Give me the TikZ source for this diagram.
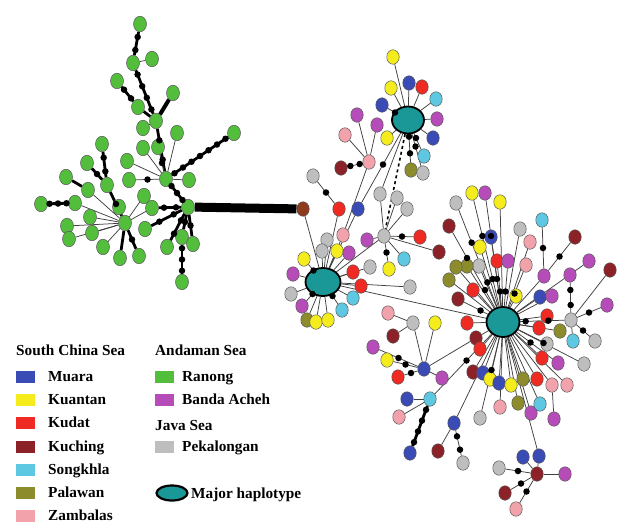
\documentclass[tikz,border=0pt]{standalone}
\usepackage{fontspec}
\setmainfont{Liberation Serif}
\usepackage{tikz}
\usepackage{xcolor}
\usetikzlibrary{shapes.geometric,calc,backgrounds}

\definecolor{muara}{HTML}{3A4BB6}
\definecolor{kuantan}{HTML}{F4EC1C}
\definecolor{kudat}{HTML}{EE2A22}
\definecolor{kuching}{HTML}{8C2228}
\definecolor{songkhla}{HTML}{5EC8E2}
\definecolor{palawan}{HTML}{8C8C2C}
\definecolor{zambalas}{HTML}{F2A2AA}
\definecolor{ranong}{HTML}{52BE3C}
\definecolor{banda}{HTML}{B64CB8}
\definecolor{pekal}{HTML}{BEBEBE}
\definecolor{majorhap}{HTML}{1A9898}
\definecolor{kubrown}{HTML}{8E3A1C}

\begin{document}
\begin{tikzpicture}
[x=1pt,y=-1pt,
      hap/.style={ellipse,draw=black!65,line width=0.5pt,minimum width=12.5pt,minimum height=14.5pt,inner sep=0pt},
      mv/.style={circle,fill=black,minimum size=6.5pt,inner sep=0pt},
      major/.style={ellipse,draw=black,line width=1.8pt,fill=majorhap,minimum width=32pt,minimum height=27pt,inner sep=0pt},
      lk/.style={draw=black!75,line width=0.75pt},
      tk/.style={draw=black,line width=2.8pt},
      swatch/.style={minimum width=19pt,minimum height=12pt,inner sep=0pt},
      lab/.style={anchor=base west,inner sep=0pt,font=\fontsize{15.3}{18}\selectfont\bfseries}]
 \useasboundingbox (0,0) rectangle (621,523);

 % Ranong cluster
 \foreach \n/\x/\y in {g1/140/24,g2/133/63,g3/152/59,g4/117/81,g5/138/107,g6/156/121,
   g7/173/93,g8/143/128,g9/143/148,g10/158/147,g11/177/133,g12/234/133,g13/166/179,
   g14/127/161,g15/129/180,g16/189/180,g17/102/144,g18/107/185,g19/87/163,g20/66/177,
   g21/88/190,g22/41/204,g23/75/203,g24/119/207,g25/125/223,g26/67/226,g27/90/217,
   g28/92/233,g29/69/239,g30/103/247,g31/120/258,g32/139/256,g33/144/196,g34/152/208,
   g35/188/207,g36/145/229,g37/182/237,g38/193/244,g39/167/247,g40/182/282}
  \node[hap,fill=ranong,minimum width=13pt,minimum height=15.5pt] (\n) at (\x,\y) {};

 % major haplotypes
 \node[major] (m1) at (408,120) {};
 \node[major,minimum width=35pt,minimum height=28pt] (m2) at (323,282) {};
 \node[major,minimum width=33pt,minimum height=30pt] (m3) at (503,322) {};
 \node[hap,fill=kubrown] (k0) at (303,209) {};

 % around m1
 \foreach \n/\x/\y/\c in {a1/393/57/kuantan,a2/391/88/kuantan,a3/409/83/muara,a4/422/87/kudat,
   a5/436/99/songkhla,a6/437/119/banda,a7/433/138/muara,a8/424/156/songkhla,a9/411/170/palawan,
   a10/423/173/pekal,a11/387/138/kuantan,a12/382/105/muara,a13/377/125/banda,a14/357/115/banda,
   a15/345/135/zambalas,a16/369/162/zambalas,a17/341/168/kuching,a18/313/176/pekal,
   a19/339/209/kudat,a20/358/209/muara}
  \node[hap,fill=\c] (\n) at (\x,\y) {};

 % grey hub
 \foreach \n/\x/\y/\c in {e0/384/236/pekal,e1/380/194/pekal,e2/397/198/pekal,e3/407/209/pekal,
   e4/367/240/banda,e5/420/237/kudat,e6/439/252/kuching,e7/389/269/kuantan,e8/404/259/songkhla}
  \node[hap,fill=\c] (\n) at (\x,\y) {};

 % around m2
 \foreach \n/\x/\y/\c in {b1/343/235/zambalas,b2/327/240/pekal,b3/322/251/pekal,b4/337/251/kuantan,
   b5/349/253/banda,b6/304/259/kuantan,b7/293/274/banda,b8/291/294/pekal,b9/302/306/banda,
   b10/307/320/palawan,b11/316/322/kuantan,b12/328/320/kuantan,b13/342/310/songkhla,
   b14/353/298/songkhla,b15/361/286/kudat,b16/353/272/kudat,b17/370/267/pekal,b18/410/287/pekal}
  \node[hap,fill=\c] (\n) at (\x,\y) {};

 % around m3
 \foreach \n/\x/\y/\c in {c1/456/203/pekal,c2/472/193/kuantan,c3/485/193/banda,c4/500/202/kuantan,
   c5/449/226/kuching,c6/480/247/kuantan,c7/491/237/muara,c8/520/229/pekal,c9/530/242/zambalas,
   c10/526/265/zambalas,c11/542/220/songkhla,c12/575/237/kuching,c13/544/276/banda,
   c14/589/261/banda,c15/570/275/banda,c16/610/270/kuching,c17/571/320/pekal,c18/607/305/banda,
   c19/573/341/songkhla,c20/595/341/pekal,c21/540/297/muara,c22/552/296/banda,c23/516/296/kuantan,
   c24/497/261/kudat,c25/508/261/banda,c26/479/266/pekal,c27/467/266/palawan,c28/456/267/palawan,
   c29/449/280/palawan,c30/473/290/kudat,c31/458/299/kuching,c32/547/316/kudat,c33/539/328/kudat,
   c34/560/331/palawan,c35/547/344/pekal,c36/542/358/kudat,c37/558/363/banda,c38/584/364/pekal,
   c39/473/372/kuching,c40/483/373/muara,c41/490/379/kuantan,c42/499/383/muara,c43/511/385/kuantan,
   c44/523/379/palawan,c45/537/379/kudat,c46/552/385/zambalas,c47/567/385/zambalas,
   c48/467/323/kudat,c49/476/338/kuching,c50/480/349/kudat,c51/413/323/pekal,c52/435/323/kuantan,
   c53/388/313/zambalas,c54/393/336/kuching,c55/424/369/muara,c56/373/347/banda,c57/387/360/kuantan,
   c58/398/377/kudat,c59/442/378/banda,c60/430/399/songkhla,c61/407/399/muara,c62/399/417/zambalas,
   c63/410/453/muara,c64/454/423/muara,c65/438/451/kuching,c66/463/463/pekal,c67/480/418/pekal,
   c68/500/407/zambalas,c69/518/403/palawan,c70/531/413/banda,c71/540/404/songkhla,
   c72/554/419/banda,c73/539/456/muara,c74/537/474/kuching,c75/523/457/muara,c76/499/468/pekal,
   c77/565/474/banda,c78/505/493/kuching,c79/516/509/zambalas}
  \node[hap,fill=\c] (\n) at (\x,\y) {};

 % thick chains of median vectors
 \foreach \a/\b/\k in {g1/g2/2,g2/g6/4,g4/g5/2,g6/g13/2,g13/g12/7,g13/g35/3,g17/g18/2,g19/g18/1,
   g18/g25/1,g22/g23/3,g32/g25/1,g34/g35/2,g36/g35/2,g37/g35/1,g38/g35/1,g39/g35/2,g37/g40/3,c63/c60/4}{
  \begin{pgfonlayer}{background}\draw[tk] (\a) -- (\b);\end{pgfonlayer}
  \foreach \i in {1,...,\k} \node[mv] (\a-\b-\i) at ($(\a)!{\i/(\k+1)}!(\b)$) {};
 }
 % thin links with median vectors
 \foreach \a/\b/\k in {g10/g13/1,g15/g13/1,a8/m1/1,a9/m1/2,a10/m1/1,a12/m1/1,a17/a16/2,a18/a19/1,
   a20/m1/1,e5/e0/1,e7/e0/1,b6/m2/1,b9/m2/1,b13/m2/1,c1/m3/2,c2/m3/2,c3/m3/2,c5/m3/2,c10/m3/1,
   c11/c13/1,c12/c13/1,c15/c17/2,c17/m3/2,c18/c17/1,c20/c17/1,c24/m3/1,c25/m3/1,c31/m3/1,
   c37/m3/1,c38/m3/1,c56/c55/1,c57/c55/1,c58/c55/1,c60/m3/1,c66/c64/2,c67/m3/1,c76/c74/1,
   c78/c74/1,c79/c74/1}{
  \begin{pgfonlayer}{background}\draw[lk] (\a) -- (\b);\end{pgfonlayer}
  \foreach \i in {1,...,\k} \node[mv] (\a-\b-\i) at ($(\a)!{\i/(\k+1)}!(\b)$) {};
 }

 \begin{pgfonlayer}{background}
  \foreach \a/\b in {g5/g6,g20/g21,g31/g25} \draw[tk] (\a) -- (\b);
  \draw[tk,line width=4pt] (g7) -- (g6);
  \draw[line width=9pt] (g35) -- (k0);
  \draw[line width=1.6pt,dashed] (m1) -- (e0);
  \foreach \a/\b in {g2/g3,g6/g8,g9/g13,g11/g13,g14/g13,g16/g13,g21/g25,g23/g25,g24/g25,g26/g25,
    g27/g25,g28/g25,g29/g25,g30/g25,g25/g33,g25/g34,
    a1/m1,a2/m1,a3/m1,a4/m1,a5/m1,a6/m1,a7/m1,a11/m1,a13/a16,a14/a16,a15/a16,a16/b1,a19/m2,a20/m2,
    e1/e0,e2/e0,e3/e0,e4/e0,e6/e0,e8/e0,e0/m2,e1/m1,
    b1/m2,b2/m2,b3/m2,b4/m2,b5/m2,b7/m2,b8/m2,b10/m2,b11/m2,b12/m2,b14/m2,b15/m2,b16/m2,b17/m2,
    b18/m2,k0/m2,m2/m3,
    c4/m3,c6/m3,c7/m3,c8/m3,c9/m3,c13/m3,c14/m3,c16/c17,c19/c17,c21/m3,c22/m3,c23/m3,c26/m3,
    c27/m3,c28/m3,c29/m3,c30/m3,c32/m3,c33/m3,c34/m3,c35/m3,c36/m3,c39/m3,c40/m3,c41/m3,c42/m3,
    c43/m3,c44/m3,c45/m3,c46/m3,c47/m3,c48/m3,c49/m3,c50/m3,c51/c53,c51/c54,c51/c55,c52/c55,
    c55/c49,c59/c55,c61/c60,c62/c60,c64/m3,c65/c64,c68/m3,c69/m3,c70/m3,c71/m3,c72/c46,c73/m3,
    c73/c74,c75/c74,c77/c74}
   \draw[lk] (\a) -- (\b);
 \end{pgfonlayer}

 % legend
 \node[lab] (sea1) at (16,355) {South China Sea};
 \node[lab] (sea2) at (155,355) {Andaman Sea};
 \node[lab] (sea3) at (155,430) {Java Sea};
 \foreach \n/\y/\c/\t in {mu/377/muara/Muara,ku/400/kuantan/Kuantan,kd/423/kudat/Kudat,
   kc/447/kuching/Kuching,so/470/songkhla/Songkhla,pa/493/palawan/Palawan,za/516/zambalas/Zambalas}{
  \node[swatch,fill=\c] (sw-\n) at (25.5,\y) {};
  \node[lab] (lb-\n) at (48,\y+4.5) {\t};
 }
 \foreach \n/\y/\c/\t in {ra/377/ranong/Ranong,ba/400/banda/Banda Acheh,pe/447/pekal/Pekalongan}{
  \node[swatch,fill=\c] (sw-\n) at (164,\y) {};
  \node[lab] (lb-\n) at (182,\y+4.5) {\t};
 }
 \node[major,minimum width=31pt,minimum height=15pt,line width=2.2pt] (sw-mh) at (172,493) {};
 \node[lab] (lb-mh) at (191,498) {Major haplotype};
\end{tikzpicture}
\end{document}
